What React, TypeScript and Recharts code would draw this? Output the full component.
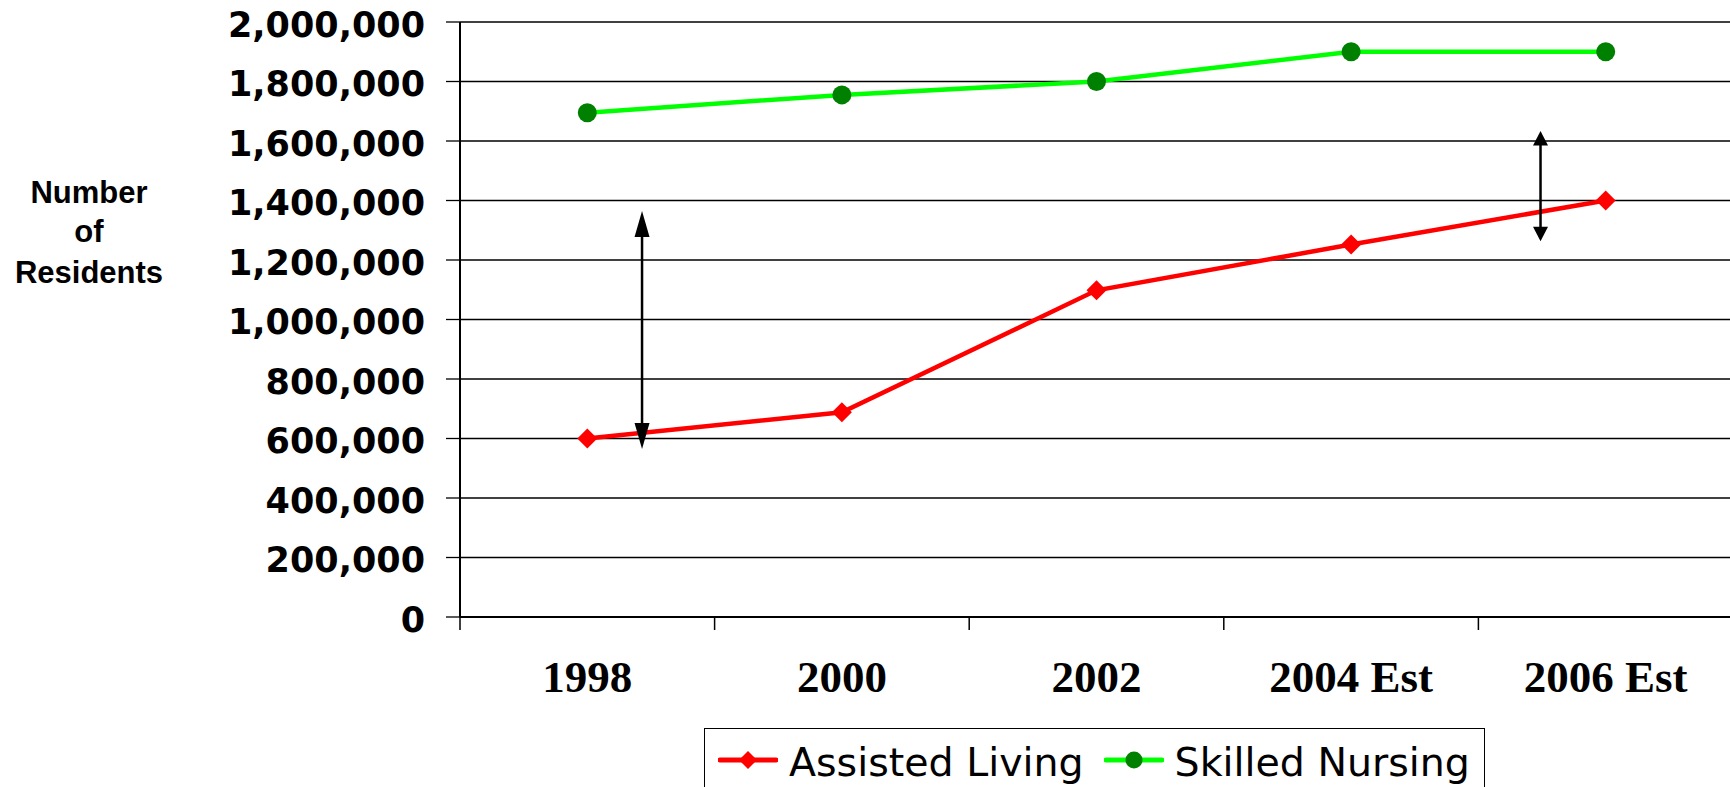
import React from "react";
import {
  ComposedChart,
  Line,
  XAxis,
  YAxis,
  CartesianGrid,
  Legend,
  ReferenceLine,
} from "recharts";

const years = ["1998", "2000", "2002", "2004 Est", "2006 Est"];
const assistedLiving = [600000, 688000, 1098000, 1252000, 1400000];
const skilledNursing = [1695000, 1755000, 1800000, 1900000, 1900000];
const yTicks = [0, 200000, 400000, 600000, 800000, 1000000, 1200000, 1400000, 1600000, 1800000, 2000000];
const xEdges = [0, 1, 2, 3, 4, 5];

// gap arrows in data units (x runs along the year bands, 0..5)
const arrowX = [0.715, 4.244];
const arrowLow = [565000, 1263000];
const arrowHigh = [1365000, 1634000];
const arrowHeadLen = [26, 14.5];

const CHART_W = 1733;
const CHART_H = 787;
const Y_AXIS_W = 460;
const BAND = (CHART_W - Y_AXIS_W) / years.length;

const RED = "#FF0000";
const LIME = "#00FF00";
const DARK_GREEN = "#008000";

const data = years.map((year, i) => ({
  pos: i + 0.5,
  year,
  assisted: assistedLiving[i],
  skilled: skilledNursing[i],
}));

const diamond = (cx: number, cy: number, size: number, key?: any) => (
  <polygon
    key={key}
    points={`${cx},${cy - size} ${cx + size},${cy} ${cx},${cy + size} ${cx - size},${cy}`}
    fill={RED}
  />
);

const circle = (cx: number, cy: number, r: number, key?: any) => (
  <circle key={key} cx={cx} cy={cy} r={r} fill={DARK_GREEN} />
);

const YTick = ({ x, y, payload }: any) => (
  <text
    x={x}
    y={y + 14.5}
    textAnchor="end"
    fontFamily='"DejaVu Sans", Verdana, sans-serif'
    fontWeight="bold"
    fontSize={35}
    fill="#000"
  >
    {Number(payload.value).toLocaleString("en-US")}
  </text>
);

const XTick = ({ x, y, payload }: any) => {
  const label = years[payload.value];
  if (!label) return null;
  return (
    <text
      x={x + BAND / 2}
      y={y + 62}
      textAnchor="middle"
      fontFamily='"Liberation Serif", "Times New Roman", serif'
      fontWeight="bold"
      fontSize={45}
      fill="#000"
    >
      {label}
    </text>
  );
};

const YTitle = () => (
  <text
    textAnchor="middle"
    fontFamily='"Liberation Sans", Arial, sans-serif'
    fontWeight="bold"
    fontSize={31}
    fill="#000"
  >
    <tspan x={89} y={203}>Number</tspan>
    <tspan x={89} y={242}>of</tspan>
    <tspan x={89} y={283}>Residents</tspan>
  </text>
);

const makeArrow = (head: number) => (props: any) => {
  const { x1, y1, x2, y2 } = props;
  const w = 7.5;
  const top = Math.min(y1, y2);
  const bottom = Math.max(y1, y2);
  return (
    <g>
      <line x1={x1} y1={top + head - 2} x2={x2} y2={bottom - head + 2} stroke="#000" strokeWidth={2.5} />
      <polygon points={`${x1},${top} ${x1 + w},${top + head} ${x1 - w},${top + head}`} fill="#000" />
      <polygon points={`${x1},${bottom} ${x1 + w},${bottom - head} ${x1 - w},${bottom - head}`} fill="#000" />
    </g>
  );
};

const LegendBox = ({ payload }: any) => (
  <div
    style={{
      display: "inline-flex",
      alignItems: "flex-start",
      boxSizing: "border-box",
      border: "1.5px solid #000",
      padding: "12.5px 14px 10px 13px",
      background: "#fff",
      fontFamily: '"DejaVu Sans", Verdana, sans-serif',
      fontSize: 39.5,
      lineHeight: "40px",
      color: "#000",
      whiteSpace: "nowrap",
    }}
  >
    {(payload || []).map((entry: any, i: number) => (
      <div key={entry.dataKey} style={{ display: "flex", alignItems: "flex-start", marginLeft: i ? 20 : 0 }}>
        <svg width={60} height={36} style={{ display: "block" }}>
          <line x1={2} y1={18} x2={58} y2={18} stroke={entry.color} strokeWidth={5} strokeLinecap="round" />
          {entry.dataKey === "assisted" ? diamond(30, 18, 9) : circle(30, 18, 8.5)}
        </svg>
        <span style={{ display: "block", marginLeft: 11 }}>{entry.value}</span>
      </div>
    ))}
  </div>
);

export default function App() {
  return (
    <div style={{ position: "absolute", left: 0, top: 0, width: 1730, height: CHART_H, overflow: "hidden", background: "#fff" }}>
      <ComposedChart
        width={CHART_W}
        height={CHART_H}
        data={data}
        margin={{ top: 22, right: 0, left: 0, bottom: 45.5 }}
      >
        <CartesianGrid horizontal vertical={false} stroke="#000" strokeWidth={1.3} />
        <XAxis
          dataKey="pos"
          type="number"
          domain={[0, 5]}
          ticks={xEdges}
          interval={0}
          height={60}
          axisLine={{ stroke: "#000", strokeWidth: 2 }}
          tickLine={{ stroke: "#000", strokeWidth: 1.5 }}
          tickSize={13}
          tickMargin={0}
          tick={<XTick />}
        />
        <YAxis
          width={Y_AXIS_W}
          domain={[0, 2000000]}
          ticks={yTicks}
          interval={0}
          axisLine={{ stroke: "#000", strokeWidth: 2 }}
          tickLine={{ stroke: "#000", strokeWidth: 1.3 }}
          tickSize={14}
          tickMargin={21}
          tick={<YTick />}
          label={{ content: () => <YTitle /> }}
        />
        <Legend
          verticalAlign="bottom"
          content={<LegendBox />}
          wrapperStyle={{ left: 704, top: 728, width: "auto" }}
        />
        <Line
          type="linear"
          dataKey="assisted"
          name="Assisted Living"
          stroke={RED}
          strokeWidth={4.5}
          dot={(p: any) => diamond(p.cx, p.cy, 10, p.index)}
          activeDot={false}
          isAnimationActive={false}
        />
        <Line
          type="linear"
          dataKey="skilled"
          name="Skilled Nursing"
          stroke={LIME}
          strokeWidth={4.5}
          dot={(p: any) => circle(p.cx, p.cy, 9.5, p.index)}
          activeDot={false}
          isAnimationActive={false}
        />
        {arrowX.map((x, i) => (
          <ReferenceLine
            key={i}
            segment={[
              { x, y: arrowHigh[i] },
              { x, y: arrowLow[i] },
            ]}
            shape={makeArrow(arrowHeadLen[i])}
          />
        ))}
      </ComposedChart>
    </div>
  );
}
